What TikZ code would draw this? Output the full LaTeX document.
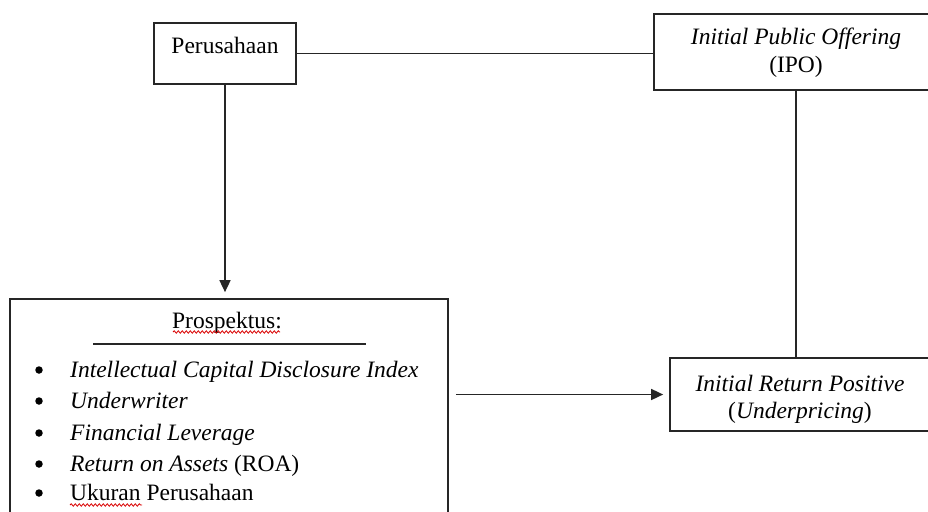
\documentclass[tikz,border=0pt]{standalone}
\usepackage{fontspec}
\setmainfont{Liberation Serif}
\usetikzlibrary{arrows.meta,decorations.pathmorphing}
\tikzset{
  box/.style={draw=black!85, line width=1.7pt, rectangle, inner sep=0pt},
  conn/.style={draw=black!85, line width=1.6pt},
  arr/.style={conn, -{Triangle[length=12pt,width=11pt]}, shorten >=6pt},
  txt/.style={inner sep=0pt, anchor=base, font=\fontsize{23.5}{28}\selectfont},
  dot/.style={circle, fill=black, inner sep=0pt, minimum size=7.5pt},
  squig/.style={draw=red!85!black, line width=0.8pt, decorate, decoration={snake, amplitude=1.2pt, segment length=4pt}}
}
\begin{document}
\begin{tikzpicture}[x=1pt,y=-1pt]
\useasboundingbox (0,0) rectangle (928,511);
\clip (0,0) rectangle (928,511);
% boxes
\node[box, minimum width=142pt, minimum height=61pt] (per) at (225,53.5) {};
\node[box, minimum width=284pt, minimum height=76pt] (ipo) at (796,52) {};
\node[box, minimum width=260pt, minimum height=73pt] (irp) at (800,394.5) {};
\node[box, minimum width=438pt, minimum height=231pt] (pros) at (229,414.5) {};
% texts
\node[txt] (pert) at (225,53) {Perusahaan};
\node[txt] (ipo1) at (796,45) {\itshape Initial Public Offering};
\node[txt] (ipo2) at (796,73) {(IPO)};
\node[txt] (irp1) at (800,391) {\itshape Initial Return Positive};
\node[txt] (irp2) at (800,418) {(\textit{Underpricing})};
\node[txt] (prost) at (227,328) {Prospektus:};
\coordinate (rl) at (93,344);
\coordinate (rr) at (366,344);
\draw[conn] (rl) -- (rr);
\foreach \i/\y/\t in {1/377/{\itshape Intellectual Capital Disclosure Index},
                      2/408/{\itshape Underwriter},
                      3/440/{\itshape Financial Leverage},
                      4/471/{\textit{Return on Assets} (ROA)},
                      5/500/{Ukuran Perusahaan}}{
  \node[dot] (b\i) at (39,\y-7) {};
  \node[txt, anchor=base west] (it\i) at (70,\y) {\t};
}
% spell-check squiggles
\coordinate (s1a) at (173,332); \coordinate (s1b) at (280,332);
\draw[squig] (s1a) -- (s1b);
\coordinate (s2a) at (70,505); \coordinate (s2b) at (142,505);
\draw[squig] (s2a) -- (s2b);
% connectors
\draw[conn] (per.east) -- (per.east -| ipo.west);
\draw[arr] (per.south) -- (per.south |- pros.north);
\draw[conn] (ipo.south) -- (ipo.south |- irp.north);
\draw[arr, shorten <=7pt] (irp.west -| pros.east) -- (irp.west);
\end{tikzpicture}
\end{document}
